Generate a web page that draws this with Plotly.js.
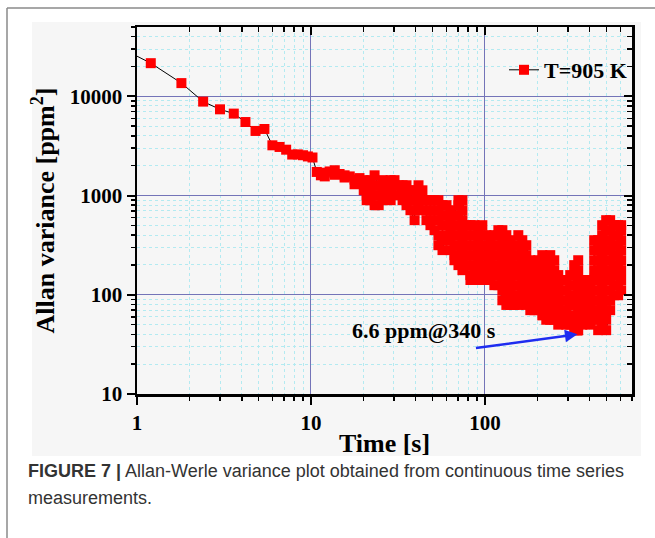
<!DOCTYPE html>
<html>
<head>
<meta charset="utf-8">
<script src="https://cdn.plot.ly/plotly-3.0.1.min.js"></script>
<style>
html, body { margin: 0; padding: 0; background: #ffffff; }
#chart { width: 655px; height: 538px; }
</style>
</head>
<body>
<div id="chart"></div>
<script>
// ---- data ----
const seriesName = 'T=905 K';
const tau = [
  0.6, 1.2, 1.8, 2.4, 3.0, 3.6, 4.2, 4.8, 5.4, 6.0, 6.6, 7.2, 7.8, 8.4, 9.0, 9.6, 10.2,
  10.8, 11.4, 12.0, 12.0, 12.8, 13.7, 13.7, 14.6, 15.6, 15.6, 16.7, 17.8, 17.8, 19.0, 19.0,
  20.1, 20.1,
  20.9, 20.9, 20.9,
  22.0, 22.0, 22.0,
  23.2, 23.2, 23.2, 23.2,
  24.5, 24.5, 24.5,
  25.8, 25.8, 25.8,
  27.2, 27.2,
  28.7, 28.7, 28.7,
  30.2, 30.2, 30.2,
  31.9, 31.9,
  33.6, 33.6, 33.6,
  35.4, 35.4, 35.4,
  37.3, 37.3, 37.3,
  39.4, 39.4, 39.4, 39.4,
  41.5, 41.5, 41.5,
  43.7, 43.7, 43.7,
  46.1, 46.1, 46.1,
  48.6, 48.6, 48.6, 48.6,
  51.3, 51.3, 51.3, 51.3,
  54.0, 54.0, 54.0, 54.0, 54.0,
  57.0, 57.0, 57.0, 57.0, 57.0,
  60.1, 60.1, 60.1, 60.1,
  63.3, 63.3, 63.3, 63.3, 63.3,
  66.8, 66.8, 66.8, 66.8, 66.8, 66.8,
  70.4, 70.4, 70.4, 70.4, 70.4, 70.4, 70.4, 70.4,
  74.2, 74.2, 74.2, 74.2, 74.2, 74.2, 74.2, 74.2,
  78.2, 78.2, 78.2, 78.2, 78.2,
  82.5, 82.5, 82.5, 82.5, 82.5, 82.5, 82.5,
  87.0, 87.0, 87.0, 87.0, 87.0, 87.0,
  91.7, 91.7, 91.7, 91.7, 91.7, 91.7,
  96.6, 96.6, 96.6, 96.6, 96.6, 96.6,
  101.9, 101.9, 101.9, 101.9, 101.9, 101.9,
  107.4, 107.4, 107.4, 107.4, 107.4,
  113.2, 113.2, 113.2, 113.2, 113.2, 113.2,
  119.4, 119.4, 119.4, 119.4, 119.4, 119.4, 119.4,
  125.9, 125.9, 125.9, 125.9, 125.9, 125.9, 125.9, 125.9,
  132.7, 132.7, 132.7, 132.7, 132.7, 132.7, 132.7, 132.7,
  139.9, 139.9, 139.9, 139.9, 139.9, 139.9, 139.9, 139.9,
  147.5, 147.5, 147.5, 147.5, 147.5, 147.5, 147.5,
  155.5, 155.5, 155.5, 155.5, 155.5, 155.5, 155.5, 155.5,
  163.9, 163.9, 163.9, 163.9, 163.9, 163.9, 163.9,
  172.8, 172.8, 172.8, 172.8, 172.8, 172.8, 172.8,
  182.2, 182.2, 182.2, 182.2, 182.2, 182.2,
  192.1, 192.1, 192.1, 192.1, 192.1, 192.1,
  202.5, 202.5, 202.5, 202.5, 202.5, 202.5,
  213.5, 213.5, 213.5, 213.5, 213.5, 213.5, 213.5,
  225.1, 225.1, 225.1, 225.1, 225.1, 225.1, 225.1,
  237.3, 237.3, 237.3, 237.3, 237.3, 237.3, 237.3, 237.3,
  250.2, 250.2, 250.2, 250.2, 250.2, 250.2, 250.2,
  263.8, 263.8, 263.8, 263.8, 263.8, 263.8,
  278.1, 278.1, 278.1, 278.1, 278.1,
  293.1, 293.1, 293.1, 293.1, 293.1, 293.1,
  309.0, 309.0, 309.0, 309.0, 309.0, 309.0,
  325.8, 325.8, 325.8, 325.8, 325.8, 325.8, 325.8, 325.8,
  340,
  343.5, 343.5, 343.5, 343.5, 343.5, 343.5, 343.5, 343.5,
  362.2, 362.2, 362.2, 362.2, 362.2,
  381.8, 381.8, 381.8, 381.8, 381.8,
  402.5, 402.5, 402.5, 402.5, 402.5,
  424.4, 424.4, 424.4, 424.4, 424.4, 424.4, 424.4, 424.4, 424.4,
  447.4, 447.4, 447.4, 447.4, 447.4, 447.4, 447.4, 447.4, 447.4, 447.4,
  471.7, 471.7, 471.7, 471.7, 471.7, 471.7, 471.7, 471.7, 471.7, 471.7, 471.7,
  497.3, 497.3, 497.3, 497.3, 497.3, 497.3, 497.3, 497.3, 497.3, 497.3, 497.3, 497.3,
  524.3, 524.3, 524.3, 524.3, 524.3, 524.3, 524.3, 524.3, 524.3, 524.3,
  552.7, 552.7, 552.7, 552.7, 552.7, 552.7, 552.7, 552.7,
  582.7, 582.7, 582.7, 582.7, 582.7, 582.7, 582.7, 582.7,
  606.3, 606.3, 606.3, 606.3, 606.3, 606.3, 606.3, 606.3
];
const allanVariance = [
  40000, 21600, 13600, 8850, 7400, 6700, 5510, 4480, 4690, 3210, 3090, 2900, 2590, 2600, 2550, 2480, 2420,
  1730, 1600, 1560, 1700, 1750, 1800, 1620, 1650, 1520, 1600, 1560, 1450, 1300, 1350, 1500,
  1430, 1130,
  1010, 898, 1270,
  1430, 1130, 898,
  800, 1010, 1270, 1600,
  1270, 1010, 800,
  898, 1130, 1430,
  1270, 1010,
  898, 1130, 1430,
  1430, 1270, 1010,
  1010, 1270,
  1270, 1130, 898,
  800, 1010, 1270,
  1130, 898, 712,
  565, 712, 898, 1130,
  1270, 1010, 800,
  712, 898, 1130,
  898, 712, 565,
  503, 565, 712, 898,
  898, 712, 565, 448,
  316, 399, 565, 712, 898,
  800, 634, 503, 355, 282,
  399, 503, 634, 800,
  712, 565, 448, 355, 282,
  223, 251, 316, 399, 503, 634,
  898, 800, 634, 503, 399, 316, 251, 199,
  177, 223, 282, 355, 448, 565, 712, 898,
  503, 399, 316, 251, 199,
  141, 158, 199, 251, 316, 399, 503,
  503, 399, 316, 251, 199, 158,
  141, 177, 223, 282, 355, 448,
  503, 399, 316, 251, 199, 158,
  141, 158, 199, 251, 316, 399,
  355, 282, 223, 177, 141,
  125, 158, 199, 251, 316, 399,
  448, 399, 316, 251, 199, 158, 125,
  88, 111, 141, 177, 223, 282, 355, 448,
  399, 316, 251, 199, 158, 125, 99, 79,
  79, 88, 111, 141, 177, 223, 282, 355,
  316, 251, 199, 158, 125, 99, 79,
  79, 99, 125, 158, 199, 251, 316, 399,
  355, 282, 223, 177, 141, 111, 88,
  79, 99, 125, 158, 199, 251, 316,
  223, 177, 141, 111, 88, 70,
  70, 79, 99, 125, 158, 199,
  223, 177, 141, 111, 88, 70,
  62, 79, 99, 125, 158, 199, 251,
  223, 177, 141, 111, 88, 70, 56,
  56, 62, 79, 99, 125, 158, 199, 251,
  223, 177, 141, 111, 88, 70, 56,
  50, 62, 79, 99, 125, 158,
  141, 111, 88, 70, 56,
  50, 56, 70, 88, 111, 141,
  158, 125, 99, 79, 62, 50,
  44, 50, 62, 79, 99, 125, 158, 199,
  43.6,
  44, 56, 70, 88, 111, 141, 177, 223,
  125, 99, 79, 62, 50,
  56, 70, 88, 111, 141,
  125, 99, 79, 62, 50,
  56, 70, 88, 111, 141, 177, 223, 282, 355,
  355, 282, 223, 177, 141, 111, 88, 70, 56, 44,
  50, 62, 79, 99, 125, 158, 199, 251, 316, 399, 503,
  565, 448, 355, 282, 223, 177, 141, 111, 88, 70, 56, 44,
  70, 88, 111, 141, 177, 223, 282, 355, 448, 565,
  503, 399, 316, 251, 199, 158, 125, 99,
  99, 125, 158, 199, 251, 316, 399, 503,
  503, 448, 355, 282, 223, 177, 141, 111
];
const xTickVals = [1, 10, 100];
const xTickText = ['1', '10', '100'];
const yTickVals = [10, 100, 1000, 10000];
const yTickText = ['10', '100', '1000', '10000'];
const xTitle = 'Time [s]';
const yTitle = 'Allan variance [ppm<sup>2</sup>]';
const noteText = '6.6 ppm@340 s';
const noteTau = 340;       // s, point the arrow indicates
const noteVariance = 40;   // ppm^2, bottom of that marker
const captionBold = 'FIGURE 7 |';
const captionLine1 = ' Allan-Werle variance plot obtained from continuous time series';
const captionLine2 = 'measurements.';

// ---- axis ranges (log10) ----
const xRange = [0, Math.log10(700)];
const yRange = [1, Math.log10(50000)];

function minorVals(decades, maxVal) {
  const out = [];
  decades.forEach(d => { for (let m = 2; m <= 9; m++) { if (m * d <= maxVal) out.push(m * d); } });
  return out;
}
const xMinor = minorVals([1, 10, 100], 700);
const yMinor = minorVals([10, 100, 1000, 10000], 50000);

const serif = 'Liberation Serif, Times New Roman, serif';
const tickFont = { family: serif, size: 21, color: '#000', weight: 'bold' };
const majorGrid = '#7474b8';
const minorGrid = '#b3eaf1';

const traces = [
  {
    x: tau, y: allanVariance, name: seriesName, type: 'scatter', mode: 'lines+markers',
    line: { color: '#000', width: 1 },
    marker: { symbol: 'square', size: 10, color: '#ff0000', line: { width: 0 } },
    hoverinfo: 'x+y'
  },
  { x: [], y: [], xaxis: 'x2', yaxis: 'y2', showlegend: false, hoverinfo: 'skip', type: 'scatter', mode: 'markers' }
];

const W = 655, H = 538;
const m = { l: 137, r: 23, t: 27, b: 144 };
const pw = W - m.l - m.r, ph = H - m.t - m.b;
const px = v => (v - m.l) / pw;       // pixel -> paper x
const py = v => (H - m.b - v) / ph;   // pixel -> paper y

const layout = {
  width: W, height: H, autosize: false,
  margin: m,
  paper_bgcolor: '#ffffff',
  plot_bgcolor: '#f6f6f6',
  showlegend: true,
  legend: {
    x: 1, xanchor: 'right', y: py(70), yanchor: 'middle',
    bgcolor: 'rgba(0,0,0,0)', borderwidth: 0,
    font: { family: serif, size: 22, color: '#000', weight: 'bold' }
  },
  xaxis: {
    type: 'log', range: xRange, tickmode: 'array', tickvals: xTickVals, ticktext: xTickText,
    ticks: 'outside', ticklen: 8, tickwidth: 2, tickcolor: '#000', ticklabelstandoff: 0,
    showline: true, linewidth: 2.5, linecolor: '#000', zeroline: false,
    showgrid: true, gridcolor: majorGrid, gridwidth: 1,
    tickfont: tickFont, automargin: true,
    minor: { tickmode: 'array', tickvals: xMinor, ticks: 'outside', ticklen: 4, tickwidth: 1.5, tickcolor: '#000',
             showgrid: true, gridcolor: minorGrid, griddash: 'dot', gridwidth: 1 },
    title: { text: xTitle, font: { family: serif, size: 26, color: '#000', weight: 'bold' }, standoff: 0 }
  },
  yaxis: {
    type: 'log', range: yRange, tickmode: 'array', tickvals: yTickVals, ticktext: yTickText,
    ticks: 'outside', ticklen: 8, tickwidth: 2, tickcolor: '#000',
    showline: true, linewidth: 2.5, linecolor: '#000', zeroline: false,
    showgrid: true, gridcolor: majorGrid, gridwidth: 1,
    tickfont: tickFont, automargin: true,
    minor: { tickmode: 'array', tickvals: yMinor, ticks: 'outside', ticklen: 4, tickwidth: 1.5, tickcolor: '#000',
             showgrid: true, gridcolor: minorGrid, griddash: 'dot', gridwidth: 1 },
    title: { text: yTitle, font: { family: serif, size: 26, color: '#000', weight: 'bold' }, standoff: 8 }
  },
  xaxis2: {
    type: 'log', range: xRange, overlaying: 'x', side: 'top', anchor: 'y',
    tickmode: 'array', tickvals: xTickVals, showticklabels: false,
    ticks: 'inside', ticklen: 8, tickwidth: 2, tickcolor: '#000',
    showline: true, linewidth: 2.5, linecolor: '#000', showgrid: false, zeroline: false,
    minor: { tickmode: 'array', tickvals: xMinor, ticks: 'inside', ticklen: 5, tickwidth: 1.5, tickcolor: '#000', showgrid: false }
  },
  yaxis2: {
    type: 'log', range: yRange, overlaying: 'y', side: 'right', anchor: 'x',
    tickmode: 'array', tickvals: yTickVals, showticklabels: false,
    ticks: 'inside', ticklen: 8, tickwidth: 2, tickcolor: '#000',
    showline: true, linewidth: 2.5, linecolor: '#000', showgrid: false, zeroline: false,
    minor: { tickmode: 'array', tickvals: yMinor, ticks: 'inside', ticklen: 5, tickwidth: 1.5, tickcolor: '#000', showgrid: false }
  },
  shapes: [
    { type: 'rect', xref: 'paper', yref: 'paper', layer: 'below',
      x0: px(32), x1: px(641), y0: py(456), y1: py(22),
      fillcolor: '#f6f6f6', line: { width: 0 } },
    { type: 'line', xref: 'paper', yref: 'paper', x0: px(7), x1: px(660), y0: py(8), y1: py(8),
      line: { color: '#8a8a8a', width: 1.5 } },
    { type: 'line', xref: 'paper', yref: 'paper', x0: px(7), x1: px(7), y0: py(8), y1: py(545),
      line: { color: '#8a8a8a', width: 1.5 } }
  ],
  annotations: [
    { xref: 'x', yref: 'y', x: Math.log10(noteTau), y: Math.log10(noteVariance),
      text: '', showarrow: true, axref: 'pixel', ayref: 'pixel', ax: -103, ay: 14,
      arrowhead: 2, arrowsize: 1, arrowwidth: 2.5, arrowcolor: '#1e2cf0', standoff: 0, startstandoff: 0 },
    { xref: 'paper', yref: 'paper', x: px(424), y: py(330), xanchor: 'center', yanchor: 'middle',
      text: '<b>' + noteText + '</b>', showarrow: false,
      font: { family: serif, size: 22, color: '#000' } },
    { xref: 'paper', yref: 'paper', x: px(26), y: py(471), xanchor: 'left', yanchor: 'middle',
      text: '<b>' + captionBold + '</b>' + captionLine1, showarrow: false, align: 'left',
      font: { family: 'Liberation Sans, Arial, sans-serif', size: 18, color: '#333' } },
    { xref: 'paper', yref: 'paper', x: px(26), y: py(498), xanchor: 'left', yanchor: 'middle',
      text: captionLine2, showarrow: false, align: 'left',
      font: { family: 'Liberation Sans, Arial, sans-serif', size: 18, color: '#333' } }
  ]
};

Plotly.newPlot('chart', traces, layout, { displayModeBar: false, staticPlot: true });
</script>
</body>
</html>
